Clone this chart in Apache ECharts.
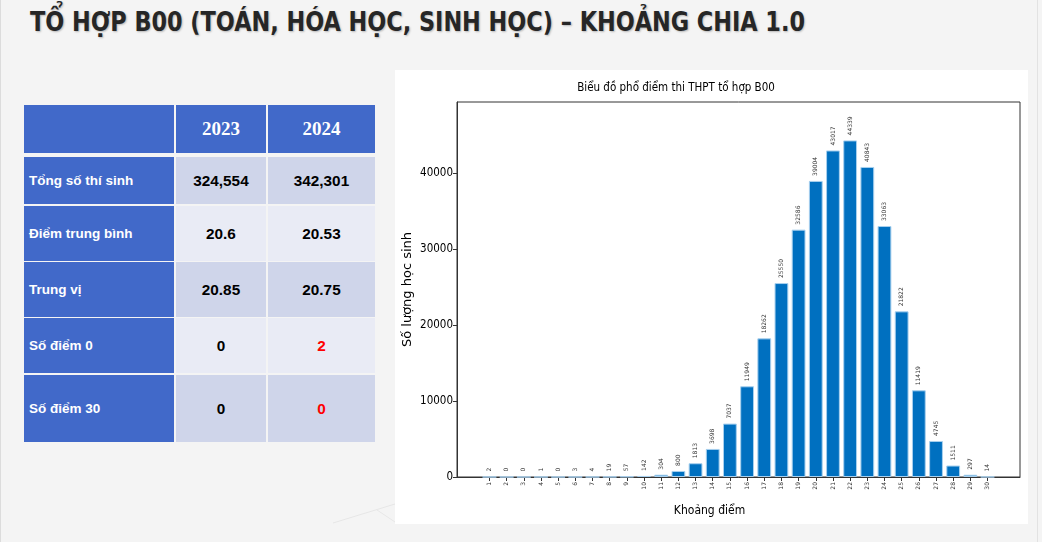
<!DOCTYPE html>
<html>
<head>
<meta charset="utf-8">
<script src="https://cdn.jsdelivr.net/npm/echarts@6/dist/echarts.min.js"></script>
<style>
  html, body { margin: 0; padding: 0; }
  body { width: 1042px; height: 542px; background: #f4f4f4; position: relative; overflow: hidden; }
  #title { position: absolute; left: 30px; top: 5px; white-space: nowrap; transform-origin: 0 0;
    font-family: "Liberation Sans Narrow", "DejaVu Sans Condensed", "Liberation Sans", sans-serif;
    font-weight: bold; font-size: 27px; line-height: 34px; color: #262626;
    text-shadow: 1px 1px 2px rgba(0,0,0,0.25); }
  .cell { position: absolute; box-sizing: border-box; display: flex; align-items: center; }
  .hd { background: #4169c9; color: #fff; justify-content: center;
    font-family: "Liberation Serif", "DejaVu Serif", serif; font-weight: bold; font-size: 19px; }
  .lb { background: #4169c9; color: #fff; padding-left: 5px;
    font-family: "Liberation Sans", Arial, sans-serif; font-weight: bold; font-size: 13.5px; }
  .vl { justify-content: center; color: #000;
    font-family: "Liberation Sans", Arial, sans-serif; font-weight: bold; font-size: 15.3px; }
  #box { position: absolute; left: 395px; top: 70px; width: 633px; height: 454px; background: #fff; }
  #chart { position: absolute; left: 0; top: 0; width: 633px; height: 454px; }
  #edgeL { position: absolute; left: 0; top: 0; width: 1px; height: 542px; background: #dcdcdc; }
  #edgeR { position: absolute; left: 1037px; top: 0; width: 1px; height: 542px; background: #e2e2e2; }
  #deco { position: absolute; left: 0; top: 0; }
</style>
</head>
<body>
<div id="edgeL"></div>
<div id="edgeR"></div>
<svg id="deco" width="1042" height="542">
  <line x1="333" y1="523" x2="395" y2="504" stroke="#e6e6e6" stroke-width="1"/>
  <line x1="377" y1="510" x2="395" y2="522" stroke="#e8e8e8" stroke-width="1"/>
</svg>
<div id="title">TỔ HỢP B00 (TOÁN, HÓA HỌC, SINH HỌC) – KHOẢNG CHIA 1.0</div>
<div id="table"></div>
<div id="box"><div id="chart"></div></div>
<script>
// ---- table data ----
const tableYears = ['2023', '2024'];
const tableRowLabels = ['Tổng số thí sinh', 'Điểm trung bình', 'Trung vị', 'Số điểm 0', 'Số điểm 30'];
const values2023 = ['324,554', '20.6', '20.85', '0', '0'];
const values2024 = ['342,301', '20.53', '20.75', '2', '0'];
const highlight2024 = [false, false, false, true, true];

// ---- chart data ----
const chartTitle = 'Biểu đồ phổ điểm thi THPT tổ hợp B00';
const scoreBins = [1,2,3,4,5,6,7,8,9,10,11,12,13,14,15,16,17,18,19,20,21,22,23,24,25,26,27,28,29,30];
const studentCounts = [2,0,0,1,0,3,4,19,57,142,304,800,1813,3698,7037,11949,18262,25550,32586,39004,43017,44339,40843,33063,21822,11419,4745,1511,297,14];
const yTicks = [0,10000,20000,30000,40000];

// ---- build table ----
(function(){
  const t = document.getElementById('table');
  const colX = [24, 176, 268];
  const colW = [150, 90, 107];
  const rowY = [105, 157, 206, 262, 318, 375];
  const rowH = [48, 47, 55, 55, 55, 67];
  const rowBg = ['#cfd5ea', '#e9ebf5', '#cfd5ea', '#e9ebf5', '#cfd5ea'];
  function cell(cls, x, y, w, h, txt, bg, color) {
    const d = document.createElement('div');
    d.className = 'cell ' + cls;
    d.style.left = x + 'px'; d.style.top = y + 'px';
    d.style.width = w + 'px'; d.style.height = h + 'px';
    if (bg) d.style.background = bg;
    if (color) d.style.color = color;
    d.textContent = txt;
    t.appendChild(d);
  }
  cell('hd', colX[0], rowY[0], colW[0], rowH[0], '');
  cell('hd', colX[1], rowY[0], colW[1], rowH[0], tableYears[0]);
  cell('hd', colX[2], rowY[0], colW[2], rowH[0], tableYears[1]);
  for (let i = 0; i < tableRowLabels.length; i++) {
    const y = rowY[i+1], h = rowH[i+1];
    cell('lb', colX[0], y, colW[0], h, tableRowLabels[i]);
    cell('vl', colX[1], y, colW[1], h, values2023[i], rowBg[i]);
    cell('vl', colX[2], y, colW[2], h, values2024[i], rowBg[i], highlight2024[i] ? '#ff0000' : null);
  }
})();

// fit title width
(function(){
  const el = document.getElementById('title');
  const w = el.scrollWidth;
  el.style.transform = 'scaleX(' + (775 / w) + ')';
})();

// ---- chart ----
const chart = echarts.init(document.getElementById('chart'), null, { renderer: 'canvas' });
const narrow = '"Liberation Sans Narrow", "DejaVu Sans Condensed", sans-serif';
chart.setOption({
  animation: false,
  backgroundColor: '#fff',
  graphic: [{
    type: 'text', x: 281, y: 18,
    style: { text: chartTitle, align: 'center', verticalAlign: 'middle',
      font: '11.5px "Liberation Sans Narrow", "DejaVu Sans Condensed", sans-serif', fill: '#000' }
  }],
  grid: { left: 62, right: 8, top: 32, bottom: 47, outerBoundsMode: 'none', containLabel: false,
    show: true, borderColor: '#333', borderWidth: 1, backgroundColor: 'transparent' },
  xAxis: {
    type: 'value', min: -0.89, max: 31.89,
    name: 'Khoảng điểm', nameLocation: 'middle', nameGap: 28, nameMoveOverlap: false,
    nameTextStyle: { fontFamily: narrow, fontSize: 12, color: '#000', padding: [0, 58, 0, 0] },
    axisLine: { show: true, onZero: false, lineStyle: { color: '#333', width: 1 } },
    axisTick: { show: true, length: 4, lineStyle: { color: '#333' }, customValues: scoreBins },
    axisLabel: { customValues: scoreBins, rotate: 90, fontSize: 6, color: '#333', margin: 5, fontFamily: 'DejaVu Sans' },
    splitLine: { show: false }
  },
  yAxis: {
    type: 'value', min: 0, max: 49400,
    name: 'Số lượng học sinh', nameLocation: 'middle', nameGap: 43, nameRotate: 90, nameMoveOverlap: false,
    nameTextStyle: { fontFamily: 'DejaVu Sans', fontSize: 13, color: '#000' },
    axisLine: { show: true, onZero: false, lineStyle: { color: '#333', width: 1 } },
    axisTick: { show: true, length: 4, lineStyle: { color: '#333' }, customValues: yTicks },
    axisLabel: { customValues: yTicks, fontSize: 11.5, color: '#000', margin: 4, fontFamily: narrow,
      formatter: v => String(v) },
    splitLine: { show: false }
  },
  series: [{
    type: 'bar',
    data: scoreBins.map((s, i) => [s, studentCounts[i]]),
    barWidth: 13.8,
    itemStyle: { color: '#0070c0', borderColor: '#a8d0ee', borderWidth: 1 },
    label: {
      show: true, position: 'top', rotate: 90, align: 'left', verticalAlign: 'middle',
      distance: 5, fontSize: 6, color: '#333', fontFamily: 'DejaVu Sans',
      formatter: p => String(p.value[1])
    }
  }]
});
</script>
</body>
</html>
